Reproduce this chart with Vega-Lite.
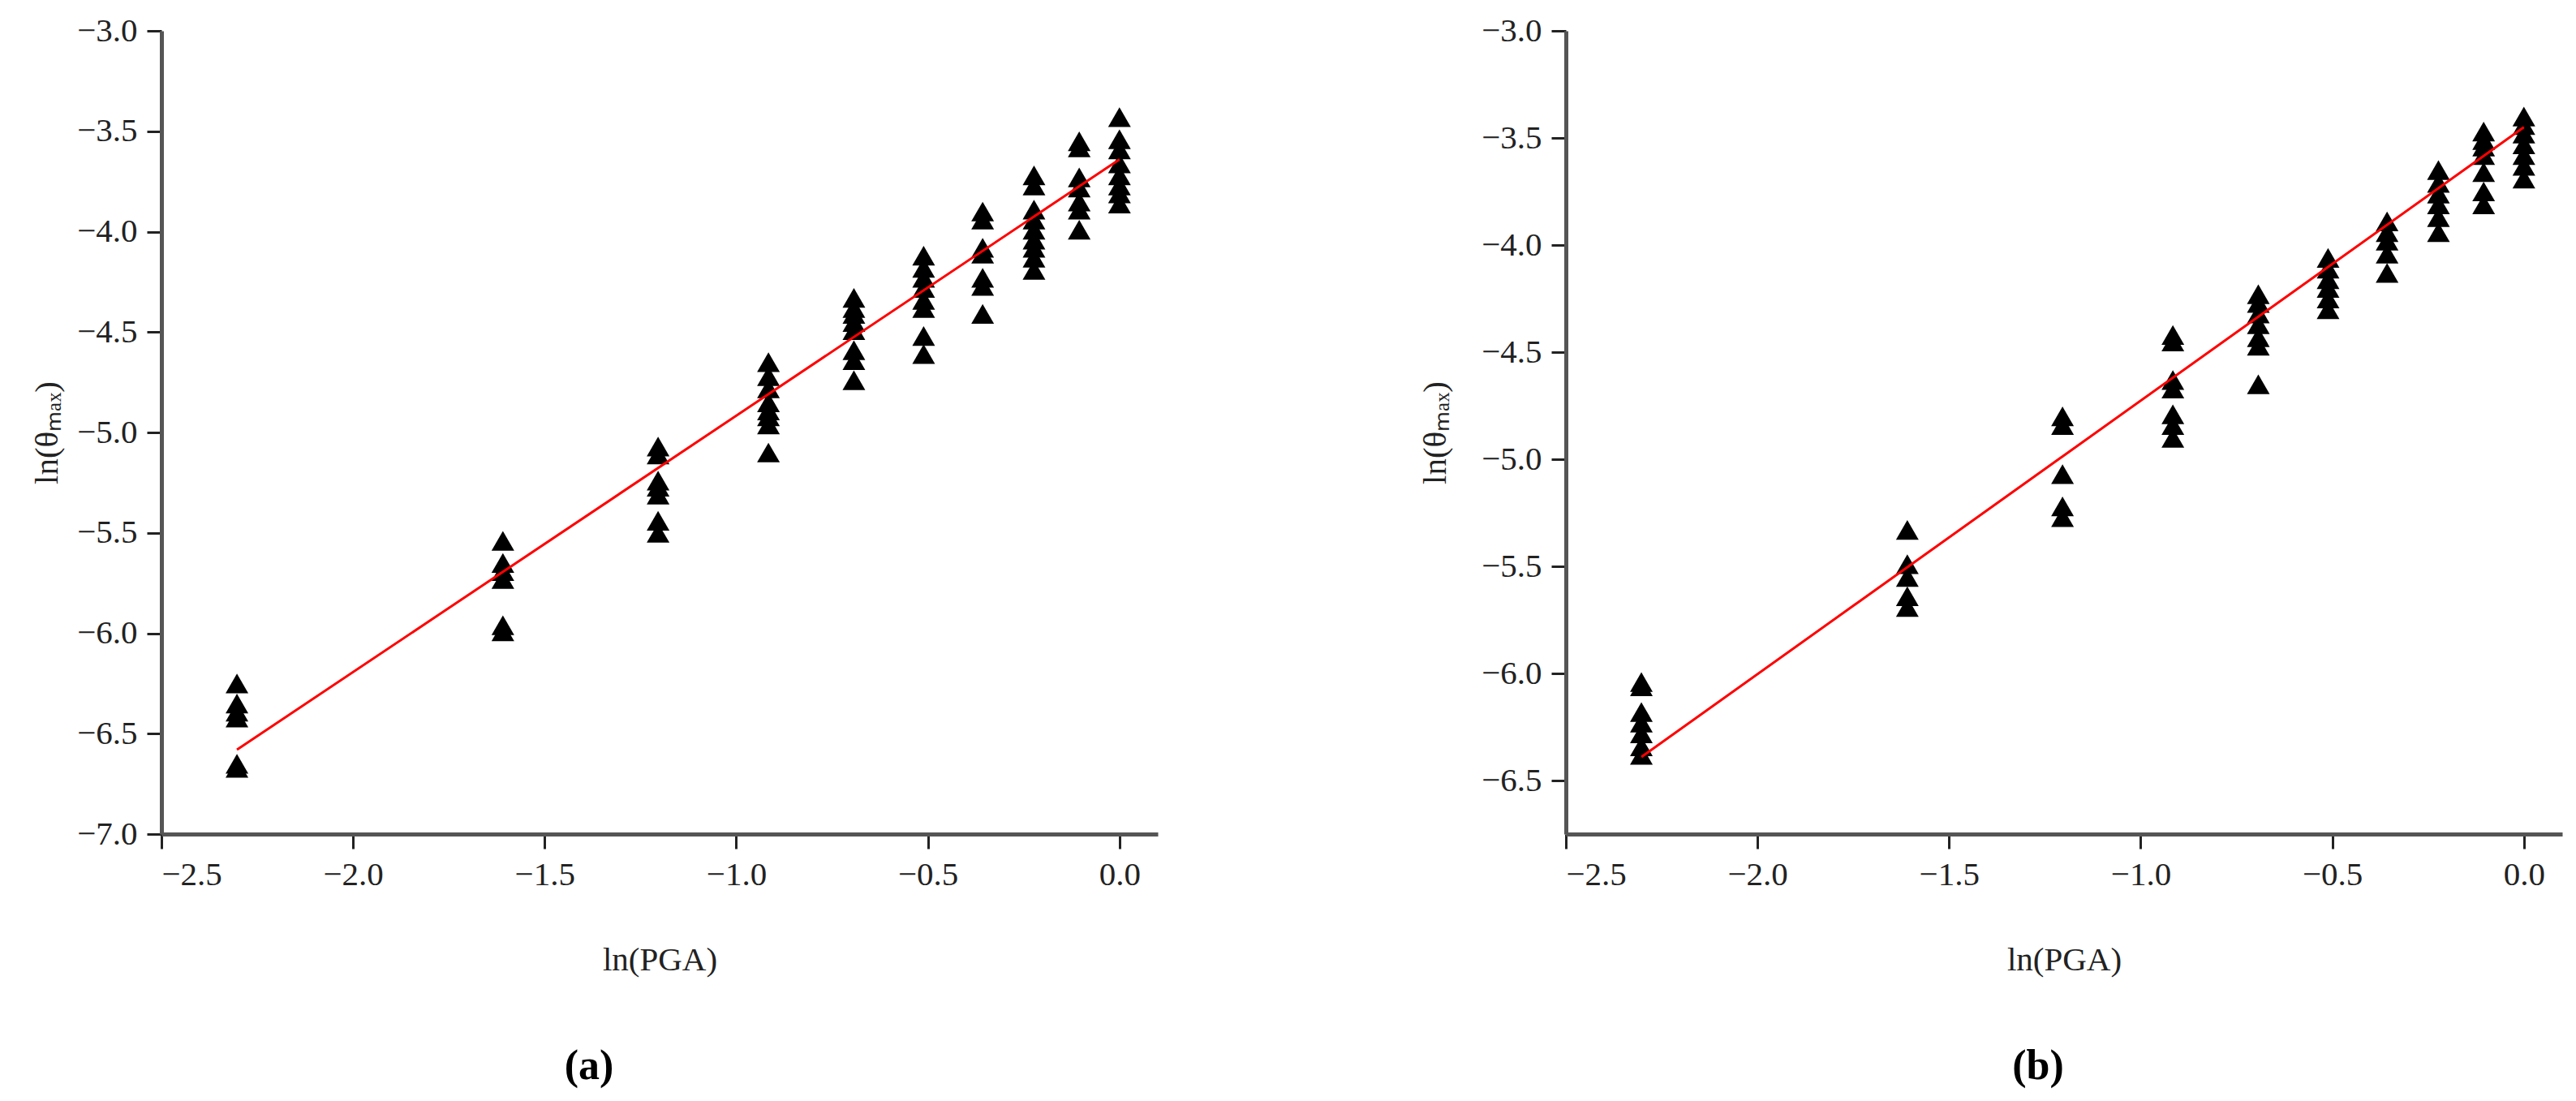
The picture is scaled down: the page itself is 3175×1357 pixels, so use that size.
{
  "$schema": "https://vega.github.io/schema/vega-lite/v6.json",
  "background": "white",
  "padding": {"left": 37, "top": 17, "right": 5, "bottom": 5},
  "bounds": "flush",
  "spacing": 503,
  "datasets": {
    "a": [
      {"x": -2.303, "y": -6.25}, {"x": -2.303, "y": -6.35}, {"x": -2.303, "y": -6.39}, {"x": -2.303, "y": -6.42}, {"x": -2.303, "y": -6.65}, {"x": -2.303, "y": -6.67},
      {"x": -1.609, "y": -5.54}, {"x": -1.609, "y": -5.65}, {"x": -1.609, "y": -5.69}, {"x": -1.609, "y": -5.73}, {"x": -1.609, "y": -5.96}, {"x": -1.609, "y": -5.99},
      {"x": -1.204, "y": -5.07}, {"x": -1.204, "y": -5.11}, {"x": -1.204, "y": -5.24}, {"x": -1.204, "y": -5.27}, {"x": -1.204, "y": -5.31}, {"x": -1.204, "y": -5.44}, {"x": -1.204, "y": -5.50},
      {"x": -0.916, "y": -4.65}, {"x": -0.916, "y": -4.72}, {"x": -0.916, "y": -4.78}, {"x": -0.916, "y": -4.85}, {"x": -0.916, "y": -4.89}, {"x": -0.916, "y": -4.92}, {"x": -0.916, "y": -4.96}, {"x": -0.916, "y": -5.10},
      {"x": -0.693, "y": -4.33}, {"x": -0.693, "y": -4.38}, {"x": -0.693, "y": -4.41}, {"x": -0.693, "y": -4.45}, {"x": -0.693, "y": -4.49}, {"x": -0.693, "y": -4.59}, {"x": -0.693, "y": -4.64}, {"x": -0.693, "y": -4.74},
      {"x": -0.511, "y": -4.12}, {"x": -0.511, "y": -4.18}, {"x": -0.511, "y": -4.23}, {"x": -0.511, "y": -4.28}, {"x": -0.511, "y": -4.34}, {"x": -0.511, "y": -4.38}, {"x": -0.511, "y": -4.52}, {"x": -0.511, "y": -4.61},
      {"x": -0.357, "y": -3.90}, {"x": -0.357, "y": -3.94}, {"x": -0.357, "y": -4.08}, {"x": -0.357, "y": -4.11}, {"x": -0.357, "y": -4.23}, {"x": -0.357, "y": -4.27}, {"x": -0.357, "y": -4.41},
      {"x": -0.223, "y": -3.72}, {"x": -0.223, "y": -3.77}, {"x": -0.223, "y": -3.89}, {"x": -0.223, "y": -3.94}, {"x": -0.223, "y": -3.99}, {"x": -0.223, "y": -4.04}, {"x": -0.223, "y": -4.08}, {"x": -0.223, "y": -4.13}, {"x": -0.223, "y": -4.19},
      {"x": -0.105, "y": -3.55}, {"x": -0.105, "y": -3.58}, {"x": -0.105, "y": -3.73}, {"x": -0.105, "y": -3.78}, {"x": -0.105, "y": -3.85}, {"x": -0.105, "y": -3.89}, {"x": -0.105, "y": -3.99},
      {"x": 0, "y": -3.43}, {"x": 0, "y": -3.54}, {"x": 0, "y": -3.59}, {"x": 0, "y": -3.66}, {"x": 0, "y": -3.72}, {"x": 0, "y": -3.77}, {"x": 0, "y": -3.81}, {"x": 0, "y": -3.86}
    ],
    "b": [
      {"x": -2.303, "y": -6.04}, {"x": -2.303, "y": -6.06}, {"x": -2.303, "y": -6.18}, {"x": -2.303, "y": -6.23}, {"x": -2.303, "y": -6.28}, {"x": -2.303, "y": -6.34}, {"x": -2.303, "y": -6.38},
      {"x": -1.609, "y": -5.33}, {"x": -1.609, "y": -5.49}, {"x": -1.609, "y": -5.55}, {"x": -1.609, "y": -5.64}, {"x": -1.609, "y": -5.69},
      {"x": -1.204, "y": -4.80}, {"x": -1.204, "y": -4.84}, {"x": -1.204, "y": -5.07}, {"x": -1.204, "y": -5.22}, {"x": -1.204, "y": -5.27},
      {"x": -0.916, "y": -4.42}, {"x": -0.916, "y": -4.45}, {"x": -0.916, "y": -4.63}, {"x": -0.916, "y": -4.67}, {"x": -0.916, "y": -4.79}, {"x": -0.916, "y": -4.84}, {"x": -0.916, "y": -4.90},
      {"x": -0.693, "y": -4.23}, {"x": -0.693, "y": -4.27}, {"x": -0.693, "y": -4.32}, {"x": -0.693, "y": -4.37}, {"x": -0.693, "y": -4.43}, {"x": -0.693, "y": -4.47}, {"x": -0.693, "y": -4.65},
      {"x": -0.511, "y": -4.06}, {"x": -0.511, "y": -4.11}, {"x": -0.511, "y": -4.16}, {"x": -0.511, "y": -4.20}, {"x": -0.511, "y": -4.25}, {"x": -0.511, "y": -4.30},
      {"x": -0.357, "y": -3.89}, {"x": -0.357, "y": -3.94}, {"x": -0.357, "y": -3.98}, {"x": -0.357, "y": -4.04}, {"x": -0.357, "y": -4.13},
      {"x": -0.223, "y": -3.65}, {"x": -0.223, "y": -3.71}, {"x": -0.223, "y": -3.76}, {"x": -0.223, "y": -3.81}, {"x": -0.223, "y": -3.87}, {"x": -0.223, "y": -3.94},
      {"x": -0.105, "y": -3.47}, {"x": -0.105, "y": -3.51}, {"x": -0.105, "y": -3.54}, {"x": -0.105, "y": -3.58}, {"x": -0.105, "y": -3.66}, {"x": -0.105, "y": -3.75}, {"x": -0.105, "y": -3.81},
      {"x": 0, "y": -3.40}, {"x": 0, "y": -3.44}, {"x": 0, "y": -3.48}, {"x": 0, "y": -3.53}, {"x": 0, "y": -3.58}, {"x": 0, "y": -3.63}, {"x": 0, "y": -3.69}
    ],
    "fitA": [{"x": -2.303, "y": -6.58}, {"x": 0, "y": -3.64}],
    "fitB": [{"x": -2.303, "y": -6.39}, {"x": 0, "y": -3.45}]
  },
  "hconcat": [
    {
      "width": 1228,
      "height": 990,
      "title": {"text": "(a)", "orient": "bottom", "anchor": "middle", "dx": -87, "offset": 86, "fontSize": 52, "fontWeight": "bold", "font": "Liberation Serif", "color": "#000"},
      "layer": [
        {
          "data": {"name": "a"},
          "mark": {"type": "point", "shape": "triangle-up", "filled": true, "color": "#000", "opacity": 1, "size": 784},
          "encoding": {
            "x": {"field": "x", "type": "quantitative", "scale": {"domain": [-2.5, 0.1], "nice": false, "zero": false},
                  "axis": {"values": [-2.5, -2, -1.5, -1, -0.5, 0], "format": ".1f", "title": "ln(PGA)", "titleY": 155, "titleBaseline": "middle"}},
            "y": {"field": "y", "type": "quantitative", "scale": {"domain": [-7, -3], "nice": false, "zero": false},
                  "axis": {"values": [-7, -6.5, -6, -5.5, -5, -4.5, -4, -3.5, -3], "format": ".1f", "title": "ln(θₘₐₓ)", "titleX": -141, "titleBaseline": "middle"}}
          }
        },
        {
          "data": {"name": "fitA"},
          "mark": {"type": "line", "color": "#ff0000", "strokeWidth": 3},
          "encoding": {
            "x": {"field": "x", "type": "quantitative"},
            "y": {"field": "y", "type": "quantitative"}
          }
        }
      ]
    },
    {
      "width": 1228,
      "height": 990,
      "title": {"text": "(b)", "orient": "bottom", "anchor": "middle", "dx": -32, "offset": 86, "fontSize": 52, "fontWeight": "bold", "font": "Liberation Serif", "color": "#000"},
      "layer": [
        {
          "data": {"name": "b"},
          "mark": {"type": "point", "shape": "triangle-up", "filled": true, "color": "#000", "opacity": 1, "size": 784},
          "encoding": {
            "x": {"field": "x", "type": "quantitative", "scale": {"domain": [-2.5, 0.1], "nice": false, "zero": false},
                  "axis": {"values": [-2.5, -2, -1.5, -1, -0.5, 0], "format": ".1f", "title": "ln(PGA)", "titleY": 155, "titleBaseline": "middle"}},
            "y": {"field": "y", "type": "quantitative", "scale": {"domain": [-6.75, -3], "nice": false, "zero": false},
                  "axis": {"values": [-6.5, -6, -5.5, -5, -4.5, -4, -3.5, -3], "format": ".1f", "title": "ln(θₘₐₓ)", "titleX": -161, "titleBaseline": "middle"}}
          }
        },
        {
          "data": {"name": "fitB"},
          "mark": {"type": "line", "color": "#ff0000", "strokeWidth": 3},
          "encoding": {
            "x": {"field": "x", "type": "quantitative"},
            "y": {"field": "y", "type": "quantitative"}
          }
        }
      ]
    }
  ],
  "config": {
    "font": "Liberation Serif",
    "view": {"stroke": null},
    "axis": {
      "grid": false,
      "domainColor": "#555555",
      "domainWidth": 5,
      "tickColor": "#222222",
      "tickWidth": 3,
      "tickSize": 18,
      "labelFont": "Liberation Serif",
      "labelFontSize": 41,
      "labelColor": "#222222",
      "labelPadding": 12,
      "titleFont": "Liberation Serif",
      "titleFontSize": 41,
      "titleFontWeight": "normal",
      "titleColor": "#222222"
    }
  }
}
